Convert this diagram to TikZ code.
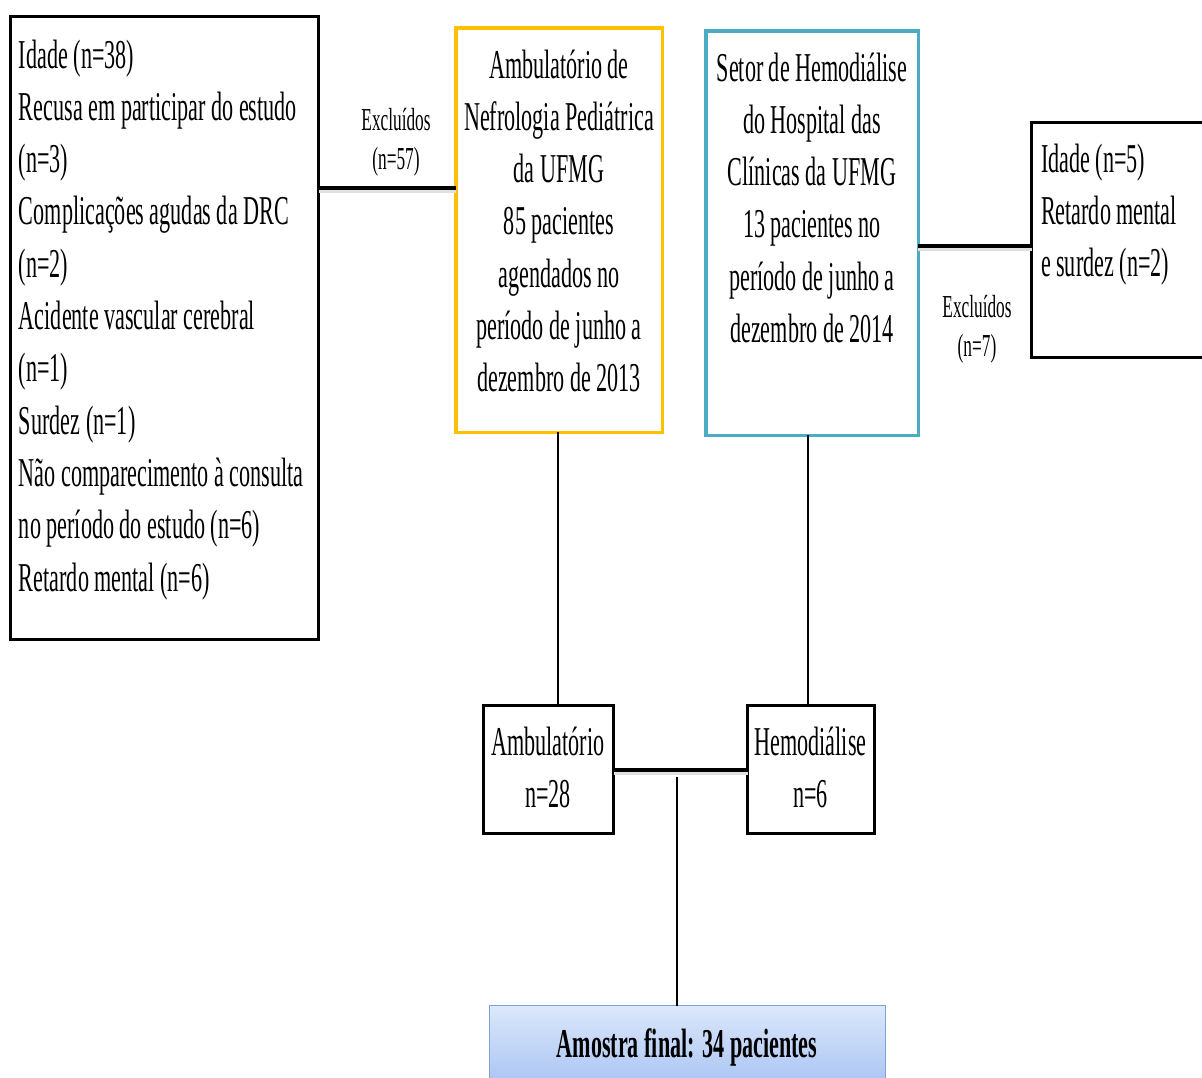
\documentclass[tikz,border=0pt]{standalone}
\usepackage{fontspec}
\setmainfont[FakeStretch=0.54]{Liberation Serif}
\definecolor{yel}{HTML}{FFC000}
\definecolor{blu}{HTML}{4BACC6}
\definecolor{ftop}{HTML}{DCE8FB}
\definecolor{fbot}{HTML}{9FBDF2}
\definecolor{fbord}{HTML}{7FA3D5}
\begin{document}
\begin{tikzpicture}[x=1pt,y=-1pt,
  frame/.style={draw=black, line width=3pt, inner sep=0pt, outer sep=0pt, rectangle},
  txt/.style={inner sep=0pt, outer sep=0pt, font=\fontsize{41}{52.3}\selectfont},
  small/.style={inner sep=0pt, outer sep=0pt, font=\fontsize{32}{39}\selectfont},
  thickconn/.style={line width=4pt, draw=black,
     preaction={draw=black!12, line width=5pt, transform canvas={yshift=-2.5pt}}},
  thinconn/.style={line width=2.5pt, draw=black}]
\useasboundingbox (0,0) rectangle (1202,1077);
\begin{scope}
\clip (0,0) rectangle (1202,1077);
% boxes
\node[frame, minimum width=308pt, minimum height=623pt] (L) at (164.5,328) {};
\node[frame, draw=yel, line width=3.5pt, minimum width=206.5pt, minimum height=404.5pt] (Y) at (559,230) {};
\node[frame, draw=blu, line width=3.5pt, minimum width=212.5pt, minimum height=404.5pt] (B) at (812,233) {};
\node[frame, minimum width=188.5pt, minimum height=235pt] (R) at (1125.75,240) {};
\node[frame, minimum width=130pt, minimum height=128pt] (A) at (548.5,769.5) {};
\node[frame, minimum width=127pt, minimum height=128pt] (H) at (811,769.5) {};
\node[rectangle, draw=fbord, line width=1.5pt, top color=ftop, bottom color=fbot,
      inner sep=0pt, outer sep=0pt, minimum width=396pt, minimum height=94.5pt] (F) at (687.5,1052.75) {};
% connectors
\draw[thickconn] (L.east |- 0,188) -- (Y.west |- 0,188);
\draw[thickconn] (B.east |- 0,246) -- (R.west |- 0,246);
\draw[thinconn] ([xshift=-1pt]Y.south) -- ([xshift=-1pt]Y.south |- A.north);
\draw[thinconn] ([xshift=-4pt]B.south) -- ([xshift=-4pt]B.south |- H.north);
\draw[thickconn] (A.east) -- (H.west);
\coordinate (J) at (677,777);
\draw[thinconn] (J) -- (J |- F.north);
% texts
\node[txt, anchor=base west] (Lt) at (19,68) {\begin{tabular}[t]{@{}l@{}}
Idade (n=38)\\
Recusa em participar do estudo\\
(n=3)\\
Complicações agudas da DRC\\
(n=2)\\
Acidente vascular cerebral\\
(n=1)\\
Surdez (n=1)\\
Não comparecimento à consulta\\
no período do estudo (n=6)\\
Retardo mental (n=6)\end{tabular}};
\node[txt, anchor=base] (Yt) at (559,78) {\begin{tabular}[t]{@{}c@{}}
Ambulatório de\\
Nefrologia Pediátrica\\
da UFMG\\
85 pacientes\\
agendados no\\
período de junho a\\
dezembro de 2013\end{tabular}};
\node[txt, anchor=base] (Bt) at (812,81) {\begin{tabular}[t]{@{}c@{}}
Setor de Hemodiálise\\
do Hospital das\\
Clínicas da UFMG\\
13 pacientes no\\
período de junho a\\
dezembro de 2014\end{tabular}};
\node[txt, anchor=base west] (Rt) at (1041,172) {\begin{tabular}[t]{@{}l@{}}
Idade (n=5)\\
Retardo mental\\
e surdez (n=2)\end{tabular}};
\node[small, anchor=base] (E1) at (396,130) {\begin{tabular}[t]{@{}c@{}}Excluídos\\(n=57)\end{tabular}};
\node[small, anchor=base] (E2) at (977,317) {\begin{tabular}[t]{@{}c@{}}Excluídos\\(n=7)\end{tabular}};
\node[txt, anchor=base] (At) at (548,755) {\begin{tabular}[t]{@{}c@{}}Ambulatório\\n=28\end{tabular}};
\node[txt, anchor=base] (Ht) at (810.5,755) {\begin{tabular}[t]{@{}c@{}}Hemodiálise\\n=6\end{tabular}};
\node[txt, anchor=base, font=\fontsize{41}{52.3}\selectfont\bfseries] (Ft) at (687,1057) {Amostra final: 34 pacientes};
\end{scope}
\end{tikzpicture}
\end{document}
